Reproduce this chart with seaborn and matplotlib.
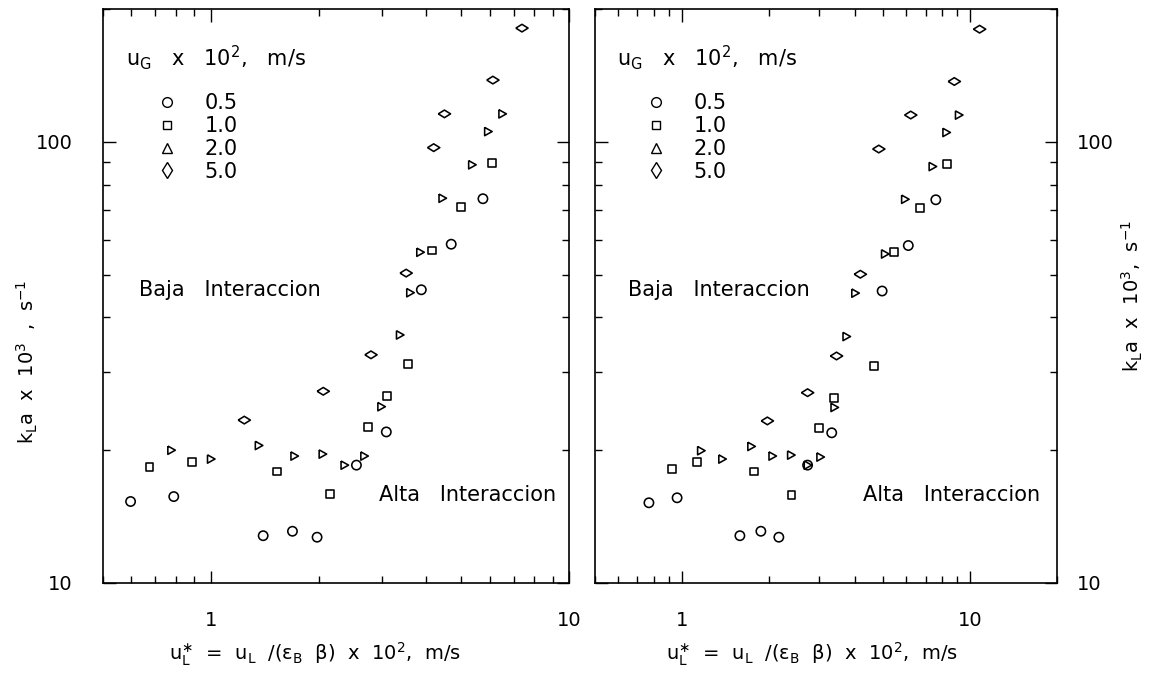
import numpy as np
import pandas as pd
import matplotlib
matplotlib.use("Agg")
import matplotlib.pyplot as plt
import seaborn as sns
from matplotlib.lines import Line2D
from matplotlib.ticker import LogLocator, NullFormatter, FuncFormatter

# ---------------- data ----------------
series_labels = ["0.5", "1.0", "2.0", "5.0"]

# left panel
l_c_x = [0.597, 0.788, 1.40, 1.69, 1.98, 2.55, 3.09, 3.87, 4.69, 5.75]
l_c_y = [15.3, 15.7, 12.8, 13.1, 12.7, 18.5, 22.0, 46.2, 58.6, 74.3]
l_s_x = [0.674, 0.885, 1.53, 2.15, 2.75, 3.10, 3.55, 4.14, 5.00, 6.11]
l_s_y = [18.3, 18.8, 17.9, 15.9, 22.6, 26.5, 31.3, 56.7, 71.3, 89.5]
l_t_x = [0.775, 1.00, 1.36, 1.71, 2.05, 2.36, 2.68, 2.99, 3.37, 3.60, 3.84, 4.43, 5.36, 5.94, 6.51]
l_t_y = [20.0, 19.1, 20.5, 19.4, 19.6, 18.5, 19.4, 25.1, 36.5, 45.5, 56.2, 74.5, 88.7, 105.5, 115.7]
l_d_x = [1.24, 2.06, 2.80, 3.51, 4.19, 4.49, 6.13, 7.39]
l_d_y = [23.4, 27.2, 32.9, 50.4, 97.0, 115.7, 138.0, 181.0]

# right panel
r_c_x = [0.769, 0.963, 1.59, 1.88, 2.17, 2.73, 3.31, 4.95, 6.10, 7.60]
r_c_y = [15.2, 15.6, 12.8, 13.1, 12.7, 18.5, 21.9, 45.9, 58.2, 73.9]
r_s_x = [0.925, 1.13, 1.78, 2.40, 3.00, 3.38, 4.63, 5.44, 6.70, 8.31]
r_s_y = [18.1, 18.8, 17.9, 15.8, 22.5, 26.3, 31.1, 56.2, 70.7, 89.0]
r_t_x = [1.165, 1.38, 1.74, 2.06, 2.39, 2.73, 3.02, 3.38, 3.72, 3.99, 5.06, 5.94, 7.40, 8.26, 9.13]
r_t_y = [19.95, 19.1, 20.4, 19.4, 19.5, 18.5, 19.3, 25.0, 36.2, 45.4, 55.7, 74.1, 87.9, 105.0, 115.0]
r_d_x = [1.98, 2.73, 3.44, 4.16, 4.82, 6.22, 8.81, 10.78]
r_d_y = [23.3, 27.0, 32.7, 50.1, 96.3, 115.0, 137.0, 180.0]


def frame(xs, ys):
    parts = []
    for lab, x, y in zip(series_labels, xs, ys):
        parts.append(pd.DataFrame({"x": x, "y": y, "ug": lab}))
    return pd.concat(parts, ignore_index=True)


left_df = frame([l_c_x, l_s_x, l_t_x, l_d_x], [l_c_y, l_s_y, l_t_y, l_d_y])
right_df = frame([r_c_x, r_s_x, r_t_x, r_d_x], [r_c_y, r_s_y, r_t_y, r_d_y])

# ---------------- style ----------------
sns.set_theme(style="ticks")
plt.rcParams["font.family"] = ["DejaVu Sans"]
plt.rcParams["mathtext.default"] = "regular"
for k in ("text.color", "axes.labelcolor", "xtick.color", "ytick.color", "axes.edgecolor"):
    plt.rcParams[k] = "black"

wide_diamond = [(-1.0, 0.0), (0.0, 0.62), (1.0, 0.0), (0.0, -0.62), (-1.0, 0.0)]
narrow_tri = [(-0.6, 0.75), (0.75, 0.0), (-0.6, -0.75), (-0.6, 0.75)]
marker_map = {"0.5": "o", "1.0": "s", "2.0": narrow_tri, "5.0": wide_diamond}
size_map = {"0.5": 45, "1.0": 32, "2.0": 36, "5.0": 78}

FS = 13
TFS = 15
fig = plt.figure(figsize=(11.49, 6.78), dpi=100)
axL = fig.add_axes([103 / 1149, 95 / 678, 466 / 1149, 574 / 678])
axR = fig.add_axes([595 / 1149, 95 / 678, 462 / 1149, 574 / 678])

for ax, df, xmax in ((axL, left_df, 10), (axR, right_df, 20)):
    for lab in series_labels:
        sub = df[df["ug"] == lab]
        sns.scatterplot(data=sub, x="x", y="y", ax=ax, marker=marker_map[lab],
                        s=size_map[lab], facecolor="none", edgecolor="black",
                        linewidth=1.15, legend=False)
    ax.set_xscale("log")
    ax.set_yscale("log")
    ax.set_xlim(0.5, xmax)
    ax.set_ylim(10, 200)
    ax.xaxis.set_major_locator(LogLocator(base=10, subs=(1.0,)))
    ax.yaxis.set_major_locator(LogLocator(base=10, subs=(1.0,)))
    ax.xaxis.set_minor_locator(LogLocator(base=10, subs=np.arange(2, 10) * 1.0))
    ax.yaxis.set_minor_locator(LogLocator(base=10, subs=np.arange(2, 10) * 1.0))
    fmt = FuncFormatter(lambda v, p: f"{v:g}")
    ax.xaxis.set_major_formatter(fmt)
    ax.yaxis.set_major_formatter(fmt)
    ax.xaxis.set_minor_formatter(NullFormatter())
    ax.yaxis.set_minor_formatter(NullFormatter())
    ax.tick_params(which="both", direction="in", top=True, right=True,
                   color="black", labelsize=FS + 1, width=1.0)
    ax.tick_params(which="major", length=9)
    ax.tick_params(which="minor", length=5)
    ax.tick_params(axis="x", which="major", pad=20)
    for sp in ax.spines.values():
        sp.set_color("black")
        sp.set_linewidth(1.2)
    ax.set_xlabel(r"$u_L^{\ast}$  =  $u_L$  /($\varepsilon_B$  $\beta$)  x  10$^2$,  m/s",
                  fontsize=FS + 1, labelpad=14)
    ax.xaxis.set_label_coords(0.455 if ax is axL else 0.47, -0.10)
    ax.text(0.072 if ax is axR else 0.078, 0.51, "Baja   Interaccion", transform=ax.transAxes,
            fontsize=TFS, va="center", ha="left")
    ax.text(0.58 if ax is axR else 0.593, 0.153, "Alta   Interaccion", transform=ax.transAxes,
            fontsize=TFS, va="center", ha="left")
    # legend title and entries
    ax.text(0.05 if ax is axL else 0.048, 0.916, r"$u_G$   x   10$^2$,   m/s",
            transform=ax.transAxes, fontsize=TFS, va="center", ha="left")
    handles = [
        Line2D([], [], ls="none", marker="o", ms=7, mfc="none", mec="black", mew=1.0),
        Line2D([], [], ls="none", marker="s", ms=6, mfc="none", mec="black", mew=1.0),
        Line2D([], [], ls="none", marker="^", ms=6.5, mfc="none", mec="black", mew=1.0),
        Line2D([], [], ls="none", marker="d", ms=8.5, mfc="none", mec="black", mew=1.0),
    ]
    ax.legend(handles, series_labels, loc="upper left",
              bbox_to_anchor=(0.115 if ax is axL else 0.11, 0.853), frameon=False,
              fontsize=TFS, handlelength=1.0, handletextpad=1.3,
              labelspacing=0.13, borderpad=0, borderaxespad=0)

axL.tick_params(axis="y", which="major", pad=22)
axL.set_ylabel(r"$k_La$  x  10$^3$  ,  s$^{-1}$", fontsize=FS + 1)
axL.yaxis.set_label_coords(-0.135, 0.385)

axR.tick_params(axis="y", labelleft=False, labelright=True, pad=14)
axR.yaxis.set_label_position("right")
axR.set_ylabel(r"$k_La$  x  10$^3$,  s$^{-1}$", fontsize=FS + 1)
axR.yaxis.set_label_coords(1.135, 0.50)

fig.savefig("out.png", dpi=100, facecolor="white")
